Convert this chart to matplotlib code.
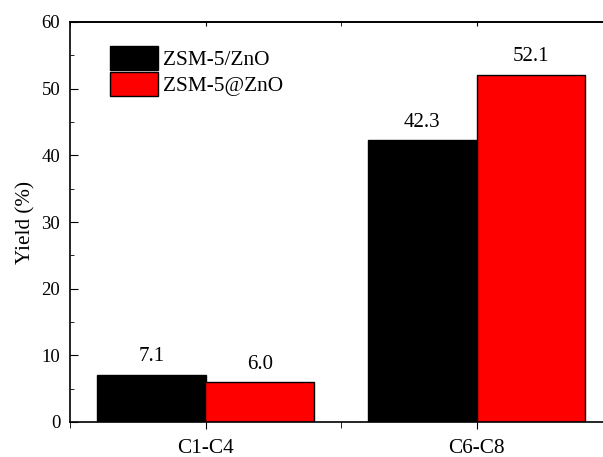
import matplotlib
matplotlib.use("Agg")
from matplotlib import pyplot as plt
from matplotlib.ticker import MultipleLocator
import numpy as np

categorias = ["C1-C4", "C6-C8"]
zsm_zno = [7.1, 42.3]
zsm_at_zno = [6.0, 52.1]
etiquetas = ["ZSM-5/ZnO", "ZSM-5@ZnO"]

plt.rcParams['font.family'] = ['Liberation Serif', 'DejaVu Serif']

fig = plt.figure(figsize=(6.03, 4.57), dpi=100)
ax = fig.add_axes([70/603, 1 - 422/457, 533/603, 400/457])

x = np.arange(1, len(categorias) + 1)
ancho = 0.4
b1 = ax.bar(x - ancho/2, zsm_zno, ancho, color="black", edgecolor="black", linewidth=1, label=etiquetas[0])
b2 = ax.bar(x + ancho/2, zsm_at_zno, ancho, color="#ff0000", edgecolor="black", linewidth=1, label=etiquetas[1])

for barras, vals in [(b1, zsm_zno), (b2, zsm_at_zno)]:
    for b, v in zip(barras, vals):
        ax.annotate(f"{v:.1f}", (b.get_x() + b.get_width()/2, v), xytext=(0, 6),
                    textcoords="offset points", ha="center", va="bottom", fontsize=15)

ax.set_xlim(0.5, 0.5 + 533/271)
ax.set_ylim(0, 60)
ax.set_xticks(x)
ax.set_xticklabels(categorias, fontsize=15.3)
ax.xaxis.set_minor_locator(MultipleLocator(0.5))
ax.yaxis.set_major_locator(MultipleLocator(10))
ax.yaxis.set_minor_locator(MultipleLocator(5))
ax.tick_params(axis='y', which='major', direction='in', length=6, labelsize=13.5, pad=7, right=False)
ax.tick_params(axis='y', which='minor', direction='in', length=3)
ax.tick_params(axis='x', which='both', direction='out', top=False, labelsize=15.3)
ax.tick_params(axis='x', which='major', length=5, pad=7.5)
ax.tick_params(axis='x', which='minor', length=4)
ax.spines['right'].set_visible(False)
for s in ['left', 'top', 'bottom']:
    ax.spines[s].set_linewidth(1.2)

# ticks de arriba hacia adentro
sec = ax.secondary_xaxis('top')
sec.set_xticks(x)
sec.xaxis.set_minor_locator(MultipleLocator(0.5))
sec.tick_params(which='both', direction='in', labeltop=False)
sec.tick_params(which='major', length=3)
sec.tick_params(which='minor', length=3)
sec.spines['top'].set_linewidth(1.2)

ax.set_ylabel("Yield (%)", fontsize=15.2, labelpad=4)

ax.legend(loc="upper left", bbox_to_anchor=(40/533, 376/400), frameon=False, fontsize=15.4,
          handlelength=2.24, handleheight=1.35, handletextpad=0.25, labelspacing=0.1, borderaxespad=0,
          borderpad=0)

fig.savefig("out.png", dpi=100)
